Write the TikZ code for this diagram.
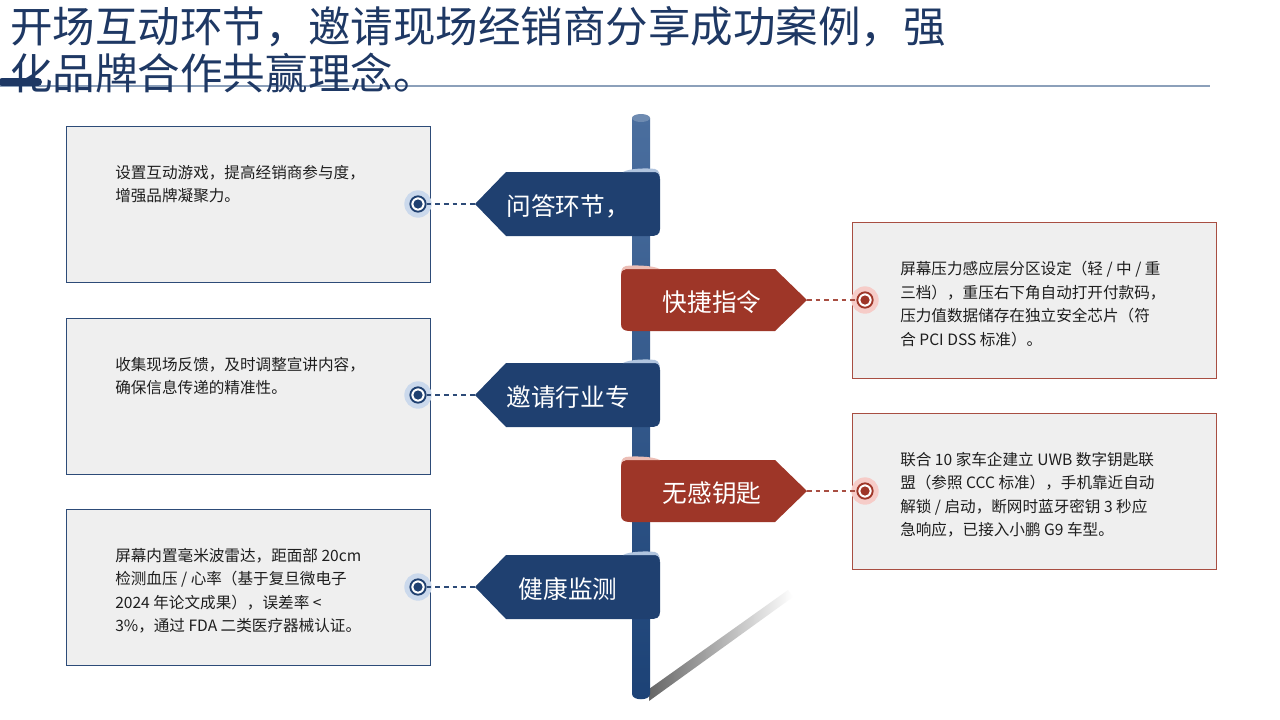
\documentclass[tikz,border=0pt]{standalone}
\usepackage{fontspec}
\setmainfont{Noto Sans CJK SC}
\definecolor{titlec}{RGB}{30,56,100}
\definecolor{navy}{RGB}{31,64,112}
\definecolor{navyline}{RGB}{45,75,120}
\definecolor{redb}{RGB}{158,54,40}
\definecolor{redline}{RGB}{168,78,66}
\definecolor{boxfill}{RGB}{239,239,239}
\definecolor{bluehalo}{RGB}{203,217,236}
\definecolor{redhalo}{RGB}{246,204,200}
\definecolor{ruleg}{RGB}{140,160,186}
\definecolor{poletop}{RGB}{74,110,158}
\definecolor{polebot}{RGB}{28,66,118}
\definecolor{bluecurl}{RGB}{176,196,222}
\definecolor{redcurl}{RGB}{236,190,182}
\definecolor{bodytxt}{RGB}{30,30,30}
\tikzset{
  bluebox/.style={draw=navyline, line width=0.9pt, fill=boxfill, anchor=north west, minimum width=273pt, minimum height=117pt, inner sep=0},
  redbox/.style={draw=redline, line width=0.9pt, fill=boxfill, anchor=north west, minimum width=273pt, minimum height=117pt, inner sep=0},
  bodytext/.style={anchor=north west, inner sep=0, align=left, text=bodytxt, font=\fontsize{11.7pt}{17.6pt}\selectfont},
  bannertext/.style={text=white, inner sep=0, font=\fontsize{18.5pt}{22pt}\selectfont},
  bhalo/.style={circle, fill=bluehalo, minimum size=20.5pt, inner sep=0},
  rhalo/.style={circle, fill=redhalo, minimum size=20.5pt, inner sep=0},
  bring/.style={circle, draw=navy, line width=1.4pt, fill=white, minimum size=11.5pt, inner sep=0},
  rring/.style={circle, draw=redb, line width=1.4pt, fill=white, minimum size=11.5pt, inner sep=0},
  bdash/.style={draw=navyline, line width=0.9pt, dash pattern=on 3.5pt off 3pt},
  rdash/.style={draw=redline, line width=0.9pt, dash pattern=on 3.5pt off 3pt},
}
\newcommand{\leftbanner}[3]{%
  \fill[navy] (475,#1) -- (506,#1-32) -- (655,#1-32) .. controls (659,#1-32) and (660,#1-29) .. (660,#1-25)
     -- (660,#1+25) .. controls (660,#1+31) and (656,#1+32) .. (650,#1+32) -- (506,#1+32) -- cycle;
  \fill[bluecurl] (623,#1-32) .. controls (630,#1-36) and (648,#1-36) .. (655,#1-35)
     .. controls (659,#1-34) and (660,#1-30) .. (660,#1-25)
     .. controls (660,#1-29) and (658,#1-32) .. (655,#1-32) -- cycle;
  \coordinate (#2) at (475,#1);
  \node[bannertext] (#2txt) at (568,#1+2) {#3};
}
\newcommand{\rightbanner}[3]{%
  \fill[redb] (807,#1) -- (775,#1-31) -- (626,#1-31) .. controls (623,#1-31) and (621,#1-29) .. (621,#1-25)
     -- (621,#1+24) .. controls (621,#1+29) and (624,#1+31) .. (630,#1+31) -- (775,#1+31) -- cycle;
  \fill[redcurl] (660,#1-31) .. controls (652,#1-35) and (632,#1-35) .. (626,#1-34)
     .. controls (622,#1-33) and (621,#1-30) .. (621,#1-25)
     .. controls (621,#1-29) and (623,#1-31) .. (626,#1-31) -- cycle;
  \coordinate (#2) at (807,#1);
  \node[bannertext] (#2txt) at (712,#1+2) {#3};
}
\begin{document}
\begin{tikzpicture}[x=0.75pt, y=-0.75pt]
\useasboundingbox (0,0) rectangle (1280,719);
\fill[white] (0,0) rectangle (1280,719);

% header rule
\draw[ruleg, line width=1.2pt] (0,86) -- (1210,86);
\draw[titlec, line width=6pt, line cap=round] (2,82) -- (38,82);
\node[anchor=north west, inner sep=0, text=titlec, align=left, font=\fontsize{31.9pt}{35.5pt}\selectfont] (title) at (10,6)
  {开场互动环节，邀请现场经销商分享成功案例，强\\化品牌合作共赢理念。};

% shadow of pole
\shade[left color=black!60, right color=white] (649,701) -- (649,689) -- (788,590) -- (793,597) -- cycle;

% pole
\shade[top color=poletop, bottom color=polebot] (632,118) -- (632,694) .. controls (632,701) and (650,701) .. (650,694) -- (650,118) -- cycle;
\fill[poletop!80!white] (641,118) ellipse (9 and 4);

% left boxes
\node[bluebox] (b1) at (66,126) {};
\node[bluebox] (b2) at (66,318) {};
\node[bluebox] (b3) at (66,509) {};
\node[bodytext] (b1t) at (115,165) {设置互动游戏，提高经销商参与度，\\增强品牌凝聚力。};
\node[bodytext] (b2t) at (115,357) {收集现场反馈，及时调整宣讲内容，\\确保信息传递的精准性。};
\node[bodytext] (b3t) at (115,548) {屏幕内置毫米波雷达，距面部 20cm\\检测血压 / 心率（基于复旦微电子\\2024 年论文成果），误差率 <\\3\%，通过 FDA 二类医疗器械认证。};

% right boxes
\node[redbox] (r1) at (852,222) {};
\node[redbox] (r2) at (852,413) {};
\node[bodytext] (r1t) at (900,261) {屏幕压力感应层分区设定（轻 / 中 / 重\\三档），重压右下角自动打开付款码，\\压力值数据储存在独立安全芯片（符\\合 PCI DSS 标准）。};
\node[bodytext] (r2t) at (900,452) {联合 10 家车企建立 UWB 数字钥匙联\\盟（参照 CCC 标准），手机靠近自动\\解锁 / 启动，断网时蓝牙密钥 3 秒应\\急响应，已接入小鹏 G9 车型。};

% banners
\leftbanner{204}{t1}{问答环节，}
\leftbanner{395}{t2}{邀请行业专}
\leftbanner{587}{t3}{健康监测}
\rightbanner{300}{u1}{快捷指令}
\rightbanner{491}{u2}{无感钥匙}

% markers
\node[bhalo] (h1) at (418,204) {};
\node[bhalo] (h2) at (418,395) {};
\node[bhalo] (h3) at (418,587) {};
\node[rhalo] (k1) at (865,300) {};
\node[rhalo] (k2) at (865,491) {};
\node[bring] (m1) at (h1) {}; \fill[navy] (m1) circle (4.6);
\node[bring] (m2) at (h2) {}; \fill[navy] (m2) circle (4.6);
\node[bring] (m3) at (h3) {}; \fill[navy] (m3) circle (4.6);
\node[rring] (n1) at (k1) {}; \fill[redb] (n1) circle (4.6);
\node[rring] (n2) at (k2) {}; \fill[redb] (n2) circle (4.6);

% connectors
\draw[bdash] (m1.east) -- (t1);
\draw[bdash] (m2.east) -- (t2);
\draw[bdash] (m3.east) -- (t3);
\draw[rdash] (u1) -- (n1.west);
\draw[rdash] (u2) -- (n2.west);
\end{tikzpicture}
\end{document}
